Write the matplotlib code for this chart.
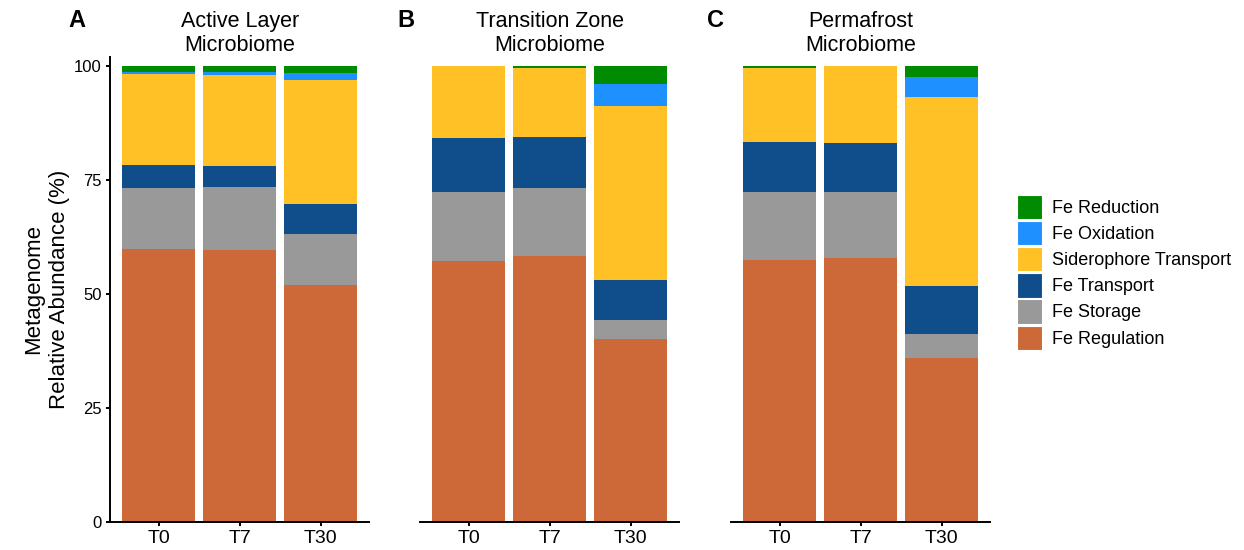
import matplotlib.pyplot as plt
from matplotlib.patches import Patch

plt.rcParams["font.family"] = ["Liberation Sans", "DejaVu Sans"]

# === Daten ===
timepoints = ["T0", "T7", "T30"]
panel_letters = ["A", "B", "C"]
panel_titles = ["Active Layer\nMicrobiome", "Transition Zone\nMicrobiome", "Permafrost\nMicrobiome"]

# categories, bottom -> top of each stack
categories = ["Fe Regulation", "Fe Storage", "Fe Transport",
              "Siderophore Transport", "Fe Oxidation", "Fe Reduction"]
colors = ["#CD6839", "#999999", "#104E8B", "#FFC125", "#1E90FF", "#008B00"]

# relative abundance (%), one list per category, values for T0, T7, T30
active_regulation = [59.9, 59.6, 52.0]
active_storage = [13.4, 13.9, 11.2]
active_transport = [5.0, 4.6, 6.5]
active_siderophore = [19.9, 19.9, 27.2]
active_oxidation = [0.5, 0.7, 1.5]
active_reduction = [1.3, 1.3, 1.6]

transition_regulation = [57.2, 58.3, 40.2]
transition_storage = [15.2, 14.9, 4.1]
transition_transport = [11.8, 11.2, 8.8]
transition_siderophore = [15.8, 15.2, 38.2]
transition_oxidation = [0.0, 0.0, 4.8]
transition_reduction = [0.0, 0.4, 3.9]

permafrost_regulation = [57.5, 57.9, 36.0]
permafrost_storage = [14.9, 14.5, 5.3]
permafrost_transport = [10.9, 10.7, 10.5]
permafrost_siderophore = [16.3, 16.9, 41.5]
permafrost_oxidation = [0.0, 0.0, 4.2]
permafrost_reduction = [0.4, 0.0, 2.5]

panels = [
    [active_regulation, active_storage, active_transport,
     active_siderophore, active_oxidation, active_reduction],
    [transition_regulation, transition_storage, transition_transport,
     transition_siderophore, transition_oxidation, transition_reduction],
    [permafrost_regulation, permafrost_storage, permafrost_transport,
     permafrost_siderophore, permafrost_oxidation, permafrost_reduction],
]

# === Plot ===
fig = plt.figure(figsize=(12.44, 5.5), dpi=100)
lefts = [0.0884, 0.3376, 0.5876]
letter_x = [0.0547, 0.3191, 0.5683]
width = 0.2085
bottom, height = 0.0509, 0.8455

x = list(range(1, len(timepoints) + 1))
for i, (series, title, letter) in enumerate(zip(panels, panel_titles, panel_letters)):
    ax = fig.add_axes([lefts[i], bottom, width, height])
    base = [0.0] * len(timepoints)
    for vals, col in zip(series, colors):
        ax.bar(x, vals, bottom=base, width=0.9, color=col, linewidth=0)
        base = [b + v for b, v in zip(base, vals)]

    ax.set_xlim(0.4, 3.6)
    ax.set_ylim(0, 102)
    ax.set_xticks(x)
    ax.set_xticklabels(timepoints, fontsize=14)
    for s in ["top", "right"]:
        ax.spines[s].set_visible(False)
    ax.spines["bottom"].set_linewidth(1.4)
    ax.tick_params(axis="x", length=3, width=1.4, pad=3)

    if i == 0:
        ax.set_yticks([0, 25, 50, 75, 100])
        ax.tick_params(axis="y", length=3, width=1.4, labelsize=12, pad=3)
        ax.spines["left"].set_linewidth(1.4)
        ax.set_ylabel("Metagenome\nRelative Abundance (%)", fontsize=16,
                      labelpad=3, linespacing=1.3)
    else:
        ax.spines["left"].set_visible(False)
        ax.set_yticks([])

    ax.set_title(title, fontsize=15.5, pad=4, linespacing=1.22)
    fig.text(letter_x[i], 0.962, letter, fontsize=17, fontweight="bold",
             ha="left", va="center")

handles = [Patch(facecolor=c, edgecolor="white", linewidth=0.8) for c in colors][::-1]
labels = categories[::-1]
fig.legend(handles, labels, loc="center left", bbox_to_anchor=(0.8175, 0.505),
           frameon=False, fontsize=13, handlelength=1.4, handleheight=1.7,
           handletextpad=0.55, labelspacing=0.1, borderaxespad=0, borderpad=0)

plt.savefig("out.png", dpi=100)
plt.close()
